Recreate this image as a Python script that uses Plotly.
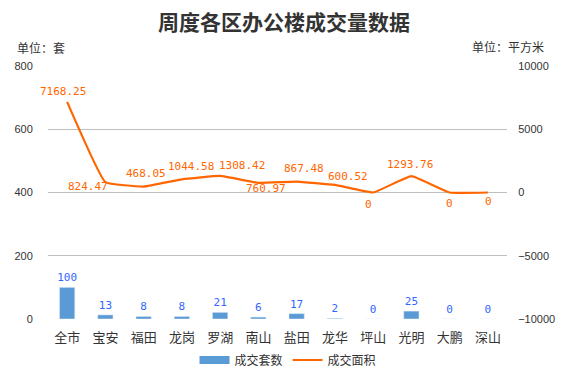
import plotly.graph_objects as go

categories = ["全市", "宝安", "福田", "龙岗", "罗湖", "南山", "盐田", "龙华", "坪山", "光明", "大鹏", "深山"]
units = [100, 13, 8, 8, 21, 6, 17, 2, 0, 25, 0, 0]
area = [7168.25, 824.47, 468.05, 1044.58, 1308.42, 760.97, 867.48, 600.52, 0, 1293.76, 0, 0]
area_labels = ["7168.25", "824.47", "468.05", "1044.58", "1308.42", "760.97", "867.48", "600.52", "0", "1293.76", "0", "0"]

# label offsets (pixels) for line data labels – styling only
label_dx = [-4, -17, 2, 9, 22, 8, 7, 13, -5, -1, 0, 1]
label_dy = [10, -4, 13, 13, 10, -6, 13, 8, -12, 12, -11, -9]

CJK = "Noto Sans CJK SC"
bar_color = "#5B9BD5"
line_color = "#FF6600"
LBL = "DejaVu Sans Mono, Liberation Mono"

fig = go.Figure()
fig.add_trace(go.Bar(
    x=categories, y=units, name="成交套数", marker_color=bar_color, width=0.4,
    text=[str(v) for v in units], textposition="outside", cliponaxis=False,
    constraintext="none", showlegend=False,
    textfont=dict(family=LBL, size=11, color="#3366FF"),
    yaxis="y",
))
# legend entry drawn as a wide blue bar swatch
fig.add_trace(go.Scatter(
    x=[categories[0]], y=[None], name="成交套数", mode="lines",
    line=dict(color=bar_color, width=8), yaxis="y",
))
fig.add_trace(go.Scatter(
    x=categories, y=area, name="成交面积", mode="lines",
    line=dict(color=line_color, width=2.2, shape="spline", smoothing=0.3),
    yaxis="y2",
))

W, H = 578, 372
ML, MR, MT, MB = 48, 71, 66, 53
pw = W - ML - MR
ph = H - MT - MB

def px(x):
    return (x - ML) / pw

def py(y):
    return (H - MB - y) / ph

annotations = [
    dict(text="单位：套", x=px(15), y=py(47), xref="paper", yref="paper", showarrow=False,
         xanchor="left", yanchor="middle", font=dict(family=CJK, size=12, color="#333333")),
    dict(text="单位：平方米", x=px(546), y=py(46), xref="paper", yref="paper", showarrow=False,
         xanchor="right", yanchor="middle", font=dict(family=CJK, size=12, color="#333333")),
]
for c, v, t, dx, dy in zip(categories, area, area_labels, label_dx, label_dy):
    annotations.append(dict(
        text=t, x=c, y=v, xref="x", yref="y2", showarrow=False,
        xanchor="center", yanchor="middle", xshift=dx, yshift=dy,
        font=dict(family=LBL, size=11, color=line_color),
    ))

fig.update_layout(
    width=W, height=H,
    margin=dict(l=ML, r=MR, t=MT, b=MB, autoexpand=False),
    paper_bgcolor="white", plot_bgcolor="white",
    showlegend=True,
    legend=dict(orientation="h", x=px(288), xanchor="center", y=py(360), yanchor="middle",
                font=dict(family=CJK, size=12, color="#333333"), itemwidth=30,
                bgcolor="rgba(0,0,0,0)"),
    title=dict(text="<b>周度各区办公楼成交量数据</b>", x=px(284), xref="paper", xanchor="center",
               y=1 - 23 / H, yanchor="middle",
               font=dict(family=CJK, size=21, color="#333333")),
    xaxis=dict(range=[-0.5, len(categories) - 0.5], showgrid=False, showline=False,
               ticks="outside", ticklen=6, tickcolor="white",
               tickfont=dict(family=CJK, size=13, color="#333333")),
    yaxis=dict(range=[0, 800], dtick=200, showgrid=True, gridcolor="#BFBFBF", gridwidth=1,
               zeroline=False, showline=False, ticks="outside", ticklen=12, tickcolor="white",
               tickfont=dict(family="Liberation Sans, Arial", size=11, color="#333333")),
    yaxis2=dict(range=[-10000, 10000], dtick=5000, tickformat="d", overlaying="y", side="right", showgrid=False,
                zeroline=False, showline=False, ticks="outside", ticklen=8, tickcolor="white",
                tickfont=dict(family="Liberation Sans, Arial", size=11, color="#333333")),
    annotations=annotations,
)

fig.write_html("out.html")
